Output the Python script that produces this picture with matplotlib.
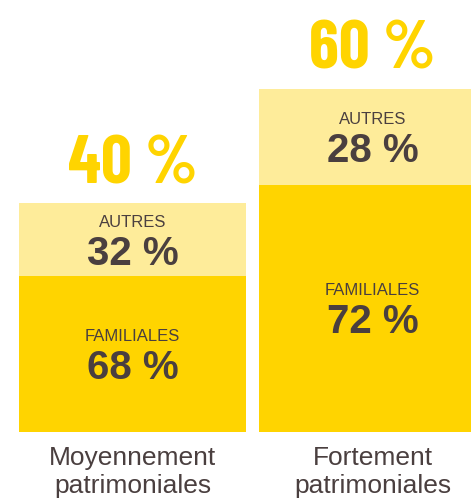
import matplotlib
matplotlib.use("Agg")
import matplotlib.pyplot as plt

categories = ["Moyennement\npatrimoniales", "Fortement\npatrimoniales"]
totals = [40, 60]
familiales_share = [68, 72]
autres_share = [32, 28]

DARK = "#FFD400"
LIGHT = "#FEEC9A"
TXT = "#4A3F3F"

fam = [t * s / 100 for t, s in zip(totals, familiales_share)]
aut = [t * s / 100 for t, s in zip(totals, autres_share)]

fig = plt.figure(figsize=(4.71, 5.04), dpi=100)
ax = fig.add_axes([0, 72 / 504, 1, 432 / 504])
x = [0, 1]
width = 227 / 240
ax.bar(x, fam, width=width, color=DARK, linewidth=0)
ax.bar(x, aut, bottom=fam, width=width, color=LIGHT, linewidth=0)
ax.set_xlim(-132.5 / 240, (471 - 132.5) / 240)
ax.set_ylim(0, 432 / 5.72)
ax.axis("off")

for i in x:
    c = fam[i] / 2
    ax.annotate("FAMILIALES", (i, c), xytext=(0, 13), textcoords="offset points",
                ha="center", va="center", fontsize=12, color=TXT, family="Liberation Sans")
    ax.annotate(f"{familiales_share[i]} %", (i, c), xytext=(0, -10), textcoords="offset points",
                ha="center", va="center", fontsize=29, fontweight="bold", color=TXT, family="Liberation Sans")
    c2 = fam[i] + aut[i] / 2
    ax.annotate("AUTRES", (i, c2), xytext=(0, 12.5), textcoords="offset points",
                ha="center", va="center", fontsize=12, color=TXT, family="Liberation Sans")
    ax.annotate(f"{autres_share[i]} %", (i, c2), xytext=(0, -10), textcoords="offset points",
                ha="center", va="center", fontsize=29, fontweight="bold", color=TXT, family="Liberation Sans")
    ax.annotate(f"{totals[i]} %", (i, totals[i]), xytext=(0, 14.5), textcoords="offset points",
                ha="center", va="baseline", fontsize=49, fontweight="bold", color=DARK,
                family="Barlow Condensed")
    ax.annotate(categories[i], (i, 0), xytext=(0, -10), textcoords="offset points",
                ha="center", va="top", fontsize=19, color=TXT, family="Liberation Sans",
                linespacing=1.2)

fig.savefig("out.png", dpi=100)
